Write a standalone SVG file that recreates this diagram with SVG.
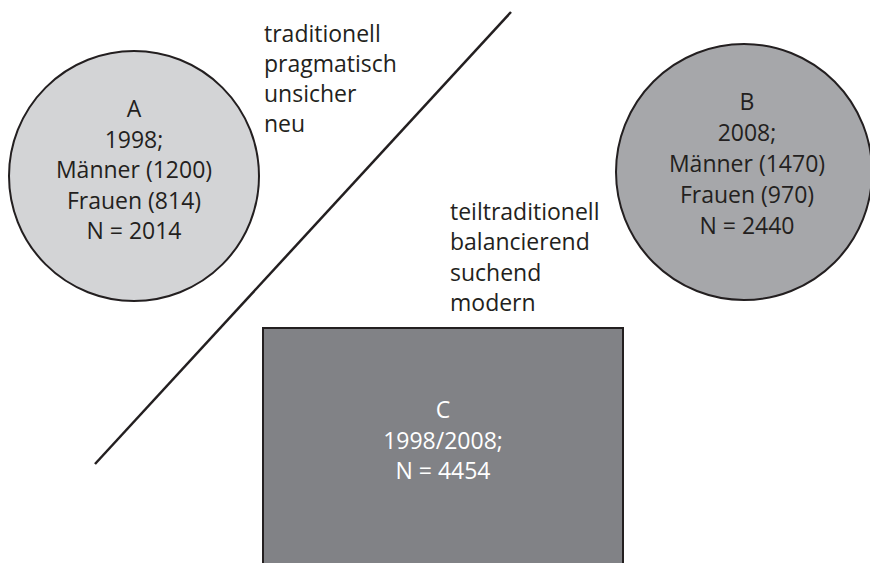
<svg xmlns="http://www.w3.org/2000/svg" width="870" height="563" viewBox="0 0 870 563">
<style>
.t{font-family:"Open Sans","Noto Sans",sans-serif;font-size:23px;fill:#231f20}
.c{text-anchor:middle}
.w{fill:#ffffff}
.s{stroke:#231f20;stroke-width:2}
</style>
<rect width="870" height="563" fill="#ffffff"/>
<g id="connectors">
<line x1="95" y1="464" x2="511" y2="12" stroke="#231f20" stroke-width="2.5"/>
</g>
<g id="nodeA">
<circle cx="134" cy="176" r="125" fill="#d3d4d6" class="s"/>
<text class="t c"><tspan x="134" y="117">A</tspan><tspan x="134" y="147.5">1998;</tspan><tspan x="134" y="178">Männer (1200)</tspan><tspan x="134" y="208.5">Frauen (814)</tspan><tspan x="134" y="239">N = 2014</tspan></text>
</g>
<g id="nodeB">
<circle cx="744" cy="172" r="128" fill="#a6a7aa" class="s"/>
<text class="t c"><tspan x="747" y="110">B</tspan><tspan x="747" y="141">2008;</tspan><tspan x="747" y="172">Männer (1470)</tspan><tspan x="747" y="203">Frauen (970)</tspan><tspan x="747" y="234">N = 2440</tspan></text>
</g>
<g id="nodeC">
<rect x="263" y="328" width="360" height="240" fill="#818286" class="s"/>
<text class="t c w"><tspan x="443" y="418">C</tspan><tspan x="443" y="448.5">1998/2008;</tspan><tspan x="443" y="479">N = 4454</tspan></text>
</g>
<g id="label1">
<text class="t"><tspan x="264" y="42">traditionell</tspan><tspan x="264" y="72">pragmatisch</tspan><tspan x="264" y="102">unsicher</tspan><tspan x="264" y="132">neu</tspan></text>
</g>
<g id="label2">
<text class="t"><tspan x="450" y="220">teiltraditionell</tspan><tspan x="450" y="250">balancierend</tspan><tspan x="450" y="280.5">suchend</tspan><tspan x="450" y="311">modern</tspan></text>
</g>
</svg>
